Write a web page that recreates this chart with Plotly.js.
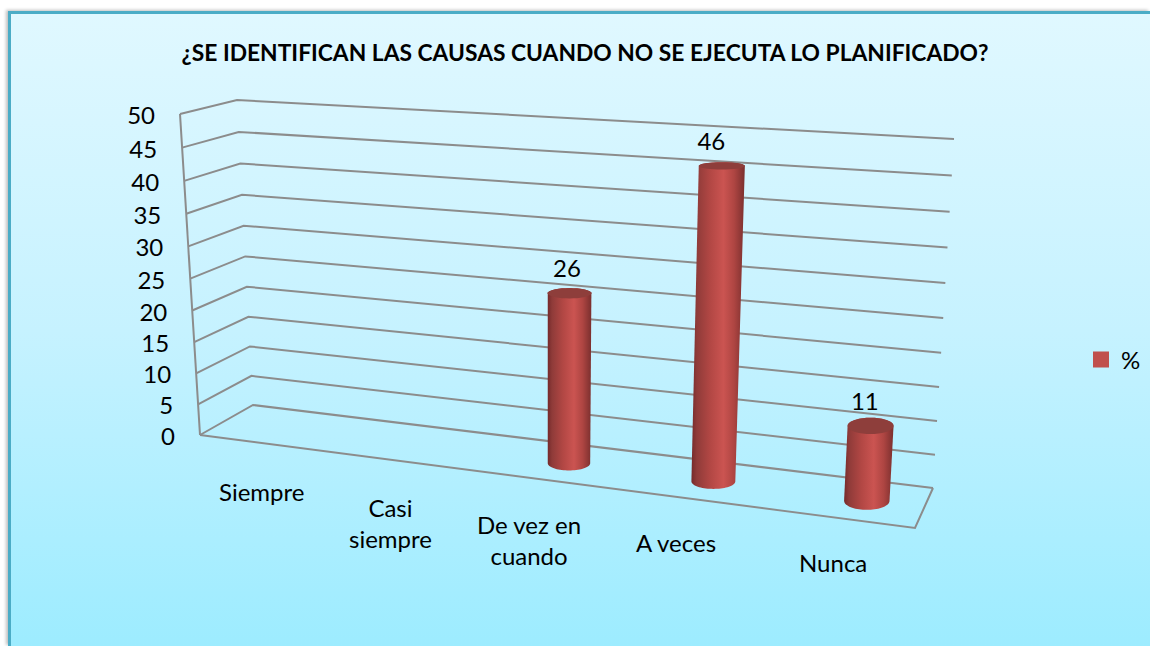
<!DOCTYPE html>
<html><head><meta charset="utf-8">
<script src="https://cdn.plot.ly/plotly-3.0.1.min.js"></script>
<style>
html,body{margin:0;padding:0;background:#fff;width:1150px;height:646px;overflow:hidden}
#frame{position:absolute;left:8px;top:11px;width:1142px;height:635px;box-sizing:border-box;
 border-left:3px solid #4bacc6;border-top:3px solid #4bacc6;
 background:linear-gradient(180deg,#e0f8ff 0%,#c6f2ff 50%,#9decff 100%);box-shadow:-2px -1px 3px rgba(0,0,0,.25)}
#chart{position:absolute;left:0;top:0;width:1150px;height:646px}
</style></head><body>
<div id="frame"></div><div id="chart"></div>
<script>
// ---- chart content ----
const titleText = '¿SE IDENTIFICAN LAS CAUSAS CUANDO NO SE EJECUTA LO PLANIFICADO?';
const categories = ['Siempre', 'Casi<br>siempre', 'De vez en<br>cuando', 'A veces', 'Nunca'];
const seriesName = '%';
const values = [null, null, 26, 46, 11];
const valueTicks = [0, 5, 10, 15, 20, 25, 30, 35, 40, 45, 50];

// ---- oblique projection of (across, value, depth) on to the hidden cartesian axes ----
const VMAX = 50;
const corner = {
  fl0:[200,435], bl0:[253,405], fr0:[915,528], br0:[933,488],
  fl1:[180,114], bl1:[237,100], fr1:[936,161], br1:[954,139]
};
const mix = (a,b,k)=>[a[0]+(b[0]-a[0])*k, a[1]+(b[1]-a[1])*k];
function heightFrac(v){const u=v/VMAX, b=0.05; return u*(1-b)/(1-b*u);}
function project(t,v,d){
  const s=heightFrac(v);
  const front=mix(mix(corner.fl0,corner.fr0,t),mix(corner.fl1,corner.fr1,t),s);
  const back =mix(mix(corner.bl0,corner.br0,t),mix(corner.bl1,corner.br1,t),s);
  return mix(front,back,d);
}
const across = i => 0.491+(i-2)*0.2005+(i-2)*(i-2)*0.0065;   // slot centre along the floor
const GRID='#8c8c8c';
const traces=[];
const base={type:'scatter',hoverinfo:'skip',showlegend:false};

function polyline(pts,width){
  traces.push({...base,mode:'lines',x:pts.map(p=>p[0]),y:pts.map(p=>p[1]),line:{color:GRID,width:width||2}});
}
valueTicks.forEach(v=>{ polyline([project(0,v,0),project(0,v,1),project(1,v,1)]); });
polyline([project(0,0,0),project(0,VMAX,0)]);
polyline([project(0,0,0),project(1,0,0),project(1,0,1)]);

// ---- cylinders ----
const bodyScale=[[0,'#752a2b'],[0.1,'#8f3b39'],[0.35,'#b24744'],[0.6,'#cb5451'],[0.8,'#ae4542'],[1,'#7a2f2e']];
function ry(y,t){return 3.6+(y-160)*0.012+(t>0.85?1.4:0);}
function rx(t,v){return 19.5+3.5*t+1.2*heightFrac(v);}
function arc(c,a,b,from,to){
  const out=[]; for(let k=0;k<=36;k++){const th=from+(to-from)*k/36; out.push([c[0]+a*Math.cos(th),c[1]+b*Math.sin(th)]);}
  return out;
}
values.forEach((val,i)=>{
  if(val===null) return;
  const t=across(i), c0=project(t,0,0.5), c1=project(t,val,0.5);
  const a0=rx(t,0), a1=rx(t,val), b0=ry(c0[1],t), b1=ry(c1[1],t);
  const body=[...arc(c0,a0,b0,Math.PI,0),...arc(c1,a1,b1,0,-Math.PI)];
  traces.push({...base,mode:'none',fill:'toself',x:body.map(p=>p[0]),y:body.map(p=>p[1]),
    fillgradient:{type:'horizontal',colorscale:bodyScale}});
  const cap=arc(c1,a1,b1,0,2*Math.PI);
  traces.push({...base,mode:'none',fill:'toself',x:cap.map(p=>p[0]),y:cap.map(p=>p[1]),fillcolor:'#8e3e3b'});
});

// ---- text marks ----
const FONT='Lato, Carlito, sans-serif';
traces.push({...base,mode:'text',
  x:valueTicks.map(v=>project(0,v,0)[0]-25),
  y:valueTicks.map(v=>project(0,v,0)[1]+4),
  text:valueTicks.map(String),textposition:'middle left',textfont:{family:FONT,size:24,color:'#000'}});
const shown=values.map((v,i)=>i).filter(i=>values[i]!==null);
traces.push({...base,mode:'text',
  x:shown.map(i=>project(across(i),0,0.5)[0]-2),
  y:shown.map(i=>project(across(i),values[i],0.5)[1]-22),
  text:shown.map(i=>String(values[i])),textposition:'middle center',textfont:{family:FONT,size:24,color:'#000'}});
// legend entry
traces.push({type:'scatter',mode:'markers',name:seriesName,x:[null],y:[null],hoverinfo:'skip',
  marker:{symbol:'square',size:16,color:'#c0504d'},showlegend:true});

const annotations=categories.map((c,i)=>{
  const p=project(across(i),0,0.5);
  return {x:p[0]-46+3*i,y:p[1]+45,text:c,showarrow:false,xref:'x',yref:'y',xanchor:'center',yanchor:'top',
    align:'center',font:{family:FONT,size:24,color:'#000'}};
});

const layout={
  width:1150,height:646,margin:{l:0,r:0,t:0,b:0},
  paper_bgcolor:'rgba(0,0,0,0)',plot_bgcolor:'rgba(0,0,0,0)',
  title:{text:'<b>'+titleText+'</b>',x:585/1150,xanchor:'center',y:1-53/646,yanchor:'middle',
    font:{family:FONT,size:22.8,color:'#000'}},
  xaxis:{range:[0,1150],visible:false,fixedrange:true},
  yaxis:{range:[646,0],visible:false,fixedrange:true},
  legend:{x:1081/1150,xanchor:'left',y:1-360/646,yanchor:'middle',bgcolor:'rgba(0,0,0,0)',
    font:{family:FONT,size:24,color:'#000'},itemwidth:30},
  annotations
};
Plotly.newPlot('chart',traces,layout,{staticPlot:true,displayModeBar:false});
</script></body></html>
